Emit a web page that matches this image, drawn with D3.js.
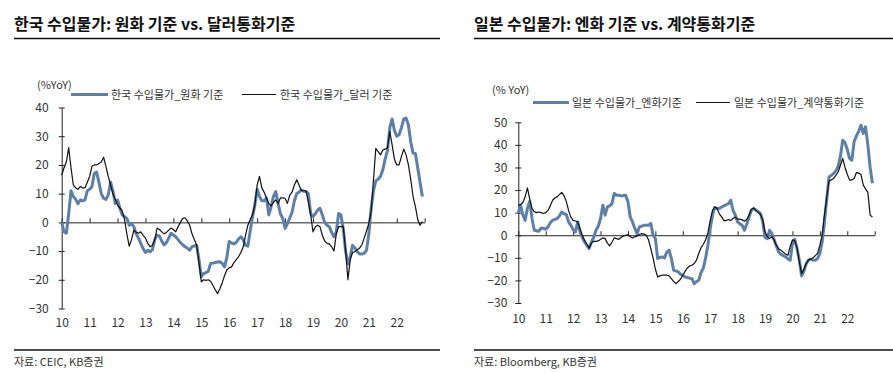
<!DOCTYPE html>
<html>
<head>
<meta charset="utf-8">
<script src="https://cdn.jsdelivr.net/npm/d3@7"></script>
<style>
  body { margin: 0; background: #fff; }
  svg text { font-family: "Noto Sans CJK KR", "Noto Sans", sans-serif; fill: #333; }
</style>
</head>
<body>
<svg id="chart" width="893" height="373"></svg>
<script>
// monthly, Jan 2010 .. Dec 2022 (%YoY)
var krKrw = [
  0,-3.3,-3.8,3,11,9,8,6.5,7.8,7.5,7.8,11,
  11.5,12.5,17,17.5,14,10,8.4,8,9.5,14,11,6.6,
  7.8,5,2.6,2,1.4,-1,-0.5,-1.5,-4,-5.5,-7.3,-9.2,
  -10.5,-9.7,-10.2,-9.5,-6,-4.4,-4.8,-6.5,-7.9,-7,-5.5,-3.8,
  -4.4,-5,-6,-7,-7.8,-8.5,-9,-9.7,-8.5,-8.2,-8,-13,
  -19,-17.8,-17.5,-17,-14.3,-14.2,-14,-13.8,-13.7,-14.3,-15.5,-12,
  -6.7,-7.2,-7.5,-7,-5.8,-5,-6,-8,-8.3,-3,2,6,
  11.5,9,7.5,7.5,8.5,2.6,5.5,9,10.7,6.6,3,1.4,
  -2.1,-0.5,1.5,3.5,7.5,10,10.5,11.3,10.8,10.7,10,3.1,
  2,3,4.3,4.9,2.6,0,-1,-1.5,-3.5,-5,-3.3,3.1,
  2.6,-2.1,-10,-14.5,-12,-8,-9,-10.2,-11,-11,-10.8,-9.7,
  -4,5,11,14.5,15,16,18.3,22,25,33,36,32,
  30,30.5,33,36,36.3,34,28,24.1,24,19,14,9
];
var krUsd = [
  16.5,19,21,26,19,13,12,11.5,12.5,12,12,14,
  16,19.5,20,20,20.5,21,22.7,19.5,16,13,10,8,
  6,5,4,1,-4,-8.3,-6,-2.7,-3.5,-3.8,-3.3,-4.5,
  -5.5,-7.3,-8.5,-8,-6,-2,-2.5,-3.3,-4,-3.5,-2.7,-2,
  -2.5,-3.3,-1.5,0,1.4,1.6,0.5,-1,-4,-6,-8,-14,
  -20.7,-20,-20.2,-20,-20.5,-22,-23.5,-24.8,-23,-21,-18.5,-16.5,
  -15.8,-15.5,-14,-13,-12,-10.5,-8.5,-4.5,-1,1,2.6,6,
  13,16,12,10.5,8.5,6.5,5.7,7,7.8,6.6,8.5,8.5,
  8.4,6.6,9.5,10.5,13,14.8,13,11,11,11,7,2.6,
  -3.3,-1.5,-1,-1.5,-4.5,-6.5,-7.3,-7.5,-8.5,-10,-4,-1.5,
  -1.5,-1.5,-9.7,-20,-13,-10.5,-10.2,-9.5,-9,-7.8,-5.5,-3,
  -0.3,4,15,25.8,24.6,23.5,25.2,25.5,26,31.6,27,22,
  20,20,23,25.5,23.5,20,15,9,5.5,1,-1,0.3
];
var jpJpy = [
  10,13.3,9,6.6,12,15,7.4,2.2,2,1.8,3.2,3,
  2.7,3.7,5.5,6.6,7,7.4,8.5,10.3,9.5,9.2,5.9,4.4,
  2.5,1.5,5.9,1.5,-1,-3,-4.5,-5.9,-3,-1,2.2,4,
  7.4,13.3,8.9,12.6,13,14,18.5,17.7,17.7,17.4,17.6,17.7,
  14.8,8,5.9,3,0.7,3.7,4,4.4,4.4,4.4,5.2,0,
  -1.5,-10.3,-9.8,-9.6,-10,-7.5,-6.6,-10.3,-15.5,-15.8,-16.2,-17.3,
  -17.7,-18.5,-18.7,-19,-19.2,-21.4,-20.5,-19.9,-16.5,-14.5,-10,-4.4,
  3,9,12.1,12,11.8,12.5,13,13.5,14,15.5,11,8.9,
  5.9,5,4.4,2.2,5,8,11,11.8,11.1,10.5,9.6,5.9,
  -1,-1.5,2.2,0.7,-2,-5,-7.4,-8.5,-9,-9.6,-10.5,-11.1,
  -3.7,-1.8,-5.9,-11,-18,-16,-12.6,-11,-10.6,-11,-11.1,-10.3,
  -8,-3,5.9,16,25.8,26.5,27.3,28.5,30.5,35,42.1,41,
  38,34,33.2,41.5,44,46,48.7,45,48,40,30,23
];
var jpContract = [
  13.3,13.6,14.5,17,21,16,11.8,10.5,10,10.3,10,9.6,
  10,11,13,15.5,16.5,17,18,19,17.5,15,11,8,
  6.6,6.3,5.9,3,0,-2.2,-4,-5.6,-3.5,-2.7,-2.7,-2.5,
  -1.8,-1.2,-1.5,-3.5,-4.7,-3,-1.2,-1.5,-1.8,-1,-0.3,0,
  0.3,-0.7,-1.2,-0.7,-0.3,0.3,0.7,0.5,0,-2,-5.9,-10,
  -15,-18.5,-18,-17.7,-17.7,-17.7,-18,-19.2,-20.5,-21.4,-20.5,-19.5,
  -17.7,-16,-14.5,-13.6,-13.3,-12.5,-11,-8,-5.5,-4,-2,1,
  6.5,11,12.6,11.8,9.5,8.1,6.5,6.5,7,6.5,7.5,8,
  7.1,7.1,6.8,6.2,7,9,11.5,12.1,11,10,9.2,7,
  1.5,-0.5,-1.5,-0.7,-2.2,-4.5,-6,-6.6,-7.5,-8.3,-8.9,-5,
  -2,-2.5,-5.5,-11.8,-17,-15,-12.6,-11,-10.6,-10,-9,-8,
  -4.4,0,9,16.5,24,24.5,25.1,26.5,28,31,34,30,
  27,24.4,24.5,25.1,27.8,27.5,26.9,22.2,20.5,19,8.9,8.1
];
var yearLabels = ["10","11","12","13","14","15","16","17","18","19","20","21","22"];
var krYTicks = [40, 30, 20, 10, 0, -10, -20, -30];
var jpYTicks = [50, 40, 30, 20, 10, 0, -10, -20, -30];

var svg = d3.select("#chart");
var blue = "#5e7fa8";

function drawPanel(p) {
  var g = svg.append("g");

  // title + rules
  g.append("text").attr("x", p.left).attr("y", 30)
    .attr("font-size", "16px").attr("font-weight", "bold").style("fill", "#111")
    .text(p.title);
  g.append("line").attr("x1", p.left).attr("x2", p.right).attr("y1", 38.5).attr("y2", 38.5)
    .attr("stroke", "#111").attr("stroke-width", 1.5);
  g.append("line").attr("x1", p.left).attr("x2", p.right).attr("y1", 350).attr("y2", 350)
    .attr("stroke", "#111").attr("stroke-width", 1.5);
  g.append("text").attr("x", p.left).attr("y", 366).attr("font-size", "11px").text(p.source);

  var x = d3.scaleLinear().domain([0, 156]).range(p.xRange);
  var y = d3.scaleLinear().domain(p.yDomain).range(p.yRange);

  // y axis, ticks crossing the line
  var ya = g.append("g").attr("transform", "translate(" + p.xRange[0] + ",0)")
    .call(d3.axisLeft(y).tickValues(p.yTicks).tickSize(3).tickSizeOuter(0).tickPadding(p.yPad)
      .tickFormat(function (d) { return d < 0 ? "\u2212" + Math.abs(d) : d; }));
  ya.selectAll(".tick line").attr("x1", 3).attr("stroke", "#222");
  ya.select(".domain").attr("stroke", "#222");
  ya.selectAll("text").attr("font-size", "12px").style("fill", "#333");

  // zero line with upward ticks
  var xa = g.append("g").attr("transform", "translate(0," + y(0) + ")")
    .call(d3.axisTop(x).tickValues(d3.range(0, 157, 12)).tickSize(4).tickSizeOuter(0).tickFormat(""));
  xa.selectAll("line, path").attr("stroke", "#222");

  // year labels under plot
  var xl = g.append("g").attr("transform", "translate(0," + p.yRange[0] + ")")
    .call(d3.axisBottom(x).tickValues(d3.range(0, 145, 12)).tickSize(0).tickPadding(p.xPad)
      .tickFormat(function (d, i) { return yearLabels[i]; }));
  xl.select(".domain").remove();
  xl.selectAll("text").attr("font-size", "12px").style("fill", "#333");

  var line = d3.line().x(function (d, i) { return x(i); }).y(function (d) { return y(d); });

  g.append("path").datum(p.blueData).attr("d", line)
    .attr("fill", "none").attr("stroke", blue).attr("stroke-width", 3).attr("stroke-linejoin", "round");
  g.append("path").datum(p.blackData).attr("d", line)
    .attr("fill", "none").attr("stroke", "#111").attr("stroke-width", 1.2).attr("stroke-linejoin", "round");

  // unit + legend
  g.append("text").attr("x", p.unitX).attr("y", p.unitY).attr("font-size", "11px").text(p.unit);
  var lg = g.append("g");
  lg.append("line").attr("x1", p.leg[0]).attr("x2", p.leg[1]).attr("y1", p.legY).attr("y2", p.legY)
    .attr("stroke", blue).attr("stroke-width", 3);
  lg.append("text").attr("x", p.leg[1] + 3).attr("y", p.legY + 4).attr("font-size", "11px").text(p.blueName);
  lg.append("line").attr("x1", p.leg[2]).attr("x2", p.leg[3]).attr("y1", p.legY).attr("y2", p.legY)
    .attr("stroke", "#111").attr("stroke-width", 1.2);
  lg.append("text").attr("x", p.leg[3] + 4).attr("y", p.legY + 4).attr("font-size", "11px").text(p.blackName);
}

drawPanel({
  left: 14, right: 440,
  title: "한국 수입물가: 원화 기준 vs. 달러통화기준",
  source: "자료: CEIC, KB증권",
  xRange: [61.7, 424.7], yDomain: [-30, 40], yRange: [308.5, 107.5],
  yTicks: krYTicks, yPad: 10, xPad: 10,
  blueData: krKrw, blackData: krUsd,
  unit: "(%YoY)", unitX: 37, unitY: 89,
  leg: [71, 108, 242, 276], legY: 94.5,
  blueName: "한국 수입물가_원화 기준", blackName: "한국 수입물가_달러 기준"
});

drawPanel({
  left: 474, right: 893,
  title: "일본 수입물가: 엔화 기준 vs. 계약통화기준",
  source: "자료: Bloomberg, KB증권",
  xRange: [518.3, 874.7], yDomain: [-30, 50], yRange: [303, 122.3],
  yTicks: jpYTicks, yPad: 8, xPad: 11,
  blueData: jpJpy, blackData: jpContract,
  unit: "(% YoY)", unitX: 492, unitY: 94,
  leg: [533, 569, 696, 730], legY: 102.5,
  blueName: "일본 수입물가_엔화기준", blackName: "일본 수입물가_계약통화기준"
});
</script>
</body>
</html>
